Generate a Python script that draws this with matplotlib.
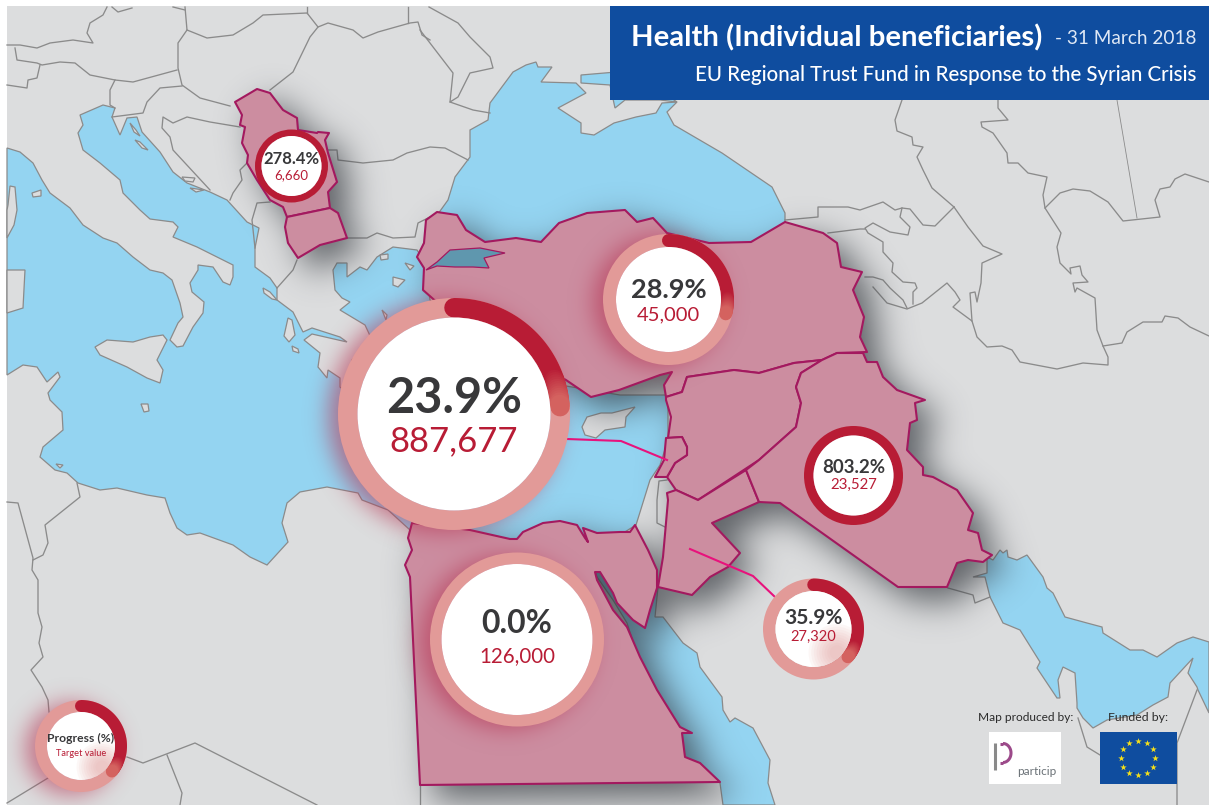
import numpy as np
import matplotlib
matplotlib.use('Agg')
import matplotlib.pyplot as plt
from matplotlib.backends.backend_agg import FigureCanvasAgg
from matplotlib.figure import Figure
from matplotlib.patches import Circle, Polygon, Rectangle, Wedge

plt.rcParams['font.family'] = ['Lato', 'DejaVu Sans']

W, H = 1209, 805

# values shown in the rings
ringPct = [23.9, 28.9, 278.4, 803.2, 35.9, 0.0, 36.0]
ringTarget = ['887,677', '45,000', '6,660', '23,527', '27,320', '126,000', 'Target value']
ringLabel = ['23.9%', '28.9%', '278.4%', '803.2%', '35.9%', '0.0%', 'Progress (%)']

# ring layout
ringX = [454, 668.5, 291.5, 853.5, 813.5, 517, 81]
ringY = [414, 299.5, 166, 475.5, 629, 639.5, 746]
ringOuter = [116, 65.5, 36.5, 49.5, 50.5, 87, 46]
ringInner = [96.5, 52.5, 30, 40, 38, 75.5, 34]
ringGlow = [True, True, False, False, False, True, True]
ringInnerTint = [False, False, False, False, True, False, True]
labelY = [398, 290, 159, 467.5, 618, 623, 738]
targetY = [441, 315, 175, 484.5, 637, 656, 753]
labelSize = [35, 19.5, 12, 13.5, 15, 23, 8.7]
targetSize = [25, 14.5, 9.5, 10.8, 10.5, 14.8, 6.7]

# map shapes, in picture pixels
sea = [(7,148),(20,152),(33,163),(42,180),(50,193),(70,208),(83,225),(103,238),(117,243),(133,257),(150,270),(163,273),
       (172,280),(180,303),(183,317),(178,323),(170,340),(177,347),(183,346),(193,327),(203,313),(204,302),(192,292),(190,283),(198,270),
       (198,265),(213,267),(223,282),(230,285),(233,277),(233,265),(217,257),(197,247),(173,237),(178,227),(173,222),(150,219),(140,210),
       (123,193),(120,180),(100,163),(83,150),(78,133),(83,125),(80,115),(103,105),(115,108),(112,117),(120,135),(127,118),(137,117),
       (142,132),(160,152),(173,172),(187,183),(210,192),(227,200),(247,222),(259,228),(255,248),(255,267),(270,278),(277,288),
       (277,300),(293,312),(303,332),(312,328),(340,337),(347,342),(312,334),(304,340),(320,353),(318,367),(327,378),(328,370),
       (340,378),(340,387),(350,395),(352,360),(372,340),(365,325),(340,310),(350,302),(342,298),(335,290),(333,270),(337,263),
       (347,263),(347,277),(360,267),(367,270),(377,257),(393,247),(417,250),
       (425,262),(430,300),(470,340),(560,385),(620,395),(668,395),(668,440),(660,465),(650,480),(636,525),(620,535),(520,540),
       (410,530),(388,510),(362,500),(358,493),(327,487),(300,492),(287,503),(282,523),(288,542),(267,565),(250,557),(233,545),
       (200,533),(187,535),(177,528),(170,513),(165,498),(147,495),(117,488),(100,490),(78,483),(67,473),(55,470),(40,457),(43,447),
       (63,430),(62,412),(50,400),(48,393),(60,377),(58,372),(47,382),(37,367),(23,365),(7,375)]
blackSea = [(448,200),(455,177),(470,157),(470,130),(488,120),(490,103),(513,72),(526,65),(536,62),(538,67),(552,67),(541,82),
            (576,83),(586,93),(558,108),(581,123),(581,133),(594,135),(614,123),(636,117),(656,113),(662,103),(677,102),(667,112),
            (674,125),(722,153),(772,187),(785,213),(785,224),(770,245),(680,250),(550,250),(470,240),(430,225)]
azov = [(581,83),(610,85),(615,108),(625,100),(660,100),(677,102),(668,96),(662,85),(640,70),(581,75)]
redSea = [(658,587),(655,617),(663,617),(683,643),(697,653),(700,667),(722,697),(723,710),(730,722),(735,718),(753,728),(770,760),
          (768,783),(775,805),(723,805),(720,783),(700,763),(683,757),(682,733),(692,733),(680,730),(657,690),(640,663),(627,623),
          (613,600),(597,577),(595,572),(600,572),(645,628),(655,590)]
gulf = [(987,557),(993,560),(1000,550),(1003,553),(1007,550),(1008,557),(1017,560),(1027,555),(1043,577),(1047,588),(1053,593),
        (1065,617),(1087,623),(1102,627),(1103,633),(1130,650),(1143,650),(1157,657),(1177,643),(1193,637),(1209,642),(1209,713),
        (1198,690),(1197,687),(1188,673),(1193,658),(1170,683),(1168,697),(1153,705),(1137,715),(1107,720),(1093,728),(1083,718),
        (1077,708),(1077,703),(1075,673),(1063,667),(1058,680),(1060,698),(1057,698),(1037,668),(1040,662),(1020,630),(1003,623),
        (990,597),(985,577),(973,577),(987,573)]

islands = [
    [(95,347),(107,340),(133,342),(150,337),(163,335),(167,340),(157,360),(163,370),(160,383),(147,378),(127,367),(100,355)],
    [(582,427),(587,417),(601,413),(612,413),(635,407),(626,417),(625,427),(605,430),(596,438),(585,435)],
    [(141,404),(148,404),(149,411),(144,412)],
    [(32,193),(41,190),(41,196),(33,197)],
    [(56,464),(63,465),(60,468)],
    [(7,238),(14,225),(17,210),(15,187),(10,186),(8,205),(7,210)],
    [(7,313),(23,308),(25,270),(7,270)],
    [(263,288),(270,292),(277,300),(272,299),(264,293)],
    [(288,318),(292,320),(295,335),(289,342),(284,336)],
    [(292,346),(298,349),(299,353),(293,351)],
    [(380,255),(388,254),(388,259),(381,260)],
    [(405,263),(414,266),(410,270)],
    [(393,277),(405,280),(398,287),(393,285)],
    [(382,310),(387,315),(386,320)],
    [(130,123),(136,130),(140,136),(134,132)],
    [(135,140),(140,142),(148,150),(142,148)],
    [(182,177),(195,178),(193,182),(185,181)],
    [(190,188),(204,190),(196,192)],
]

albaniaGreece = [(297,260),(293,270),(277,288)]

serbia = [(235,102),(257,89),(270,93),(283,110),(297,118),(298,130),(317,133),(318,132),(329,133),(325,140),(328,153),(337,182),
          (328,192),(330,208),(287,217),(283,207),(270,200),(257,180),(247,163),(248,155),(242,143),(245,127),(240,125),(242,115)]
fyrom = [(287,217),(330,208),(338,213),(347,238),(320,245),(298,258),(288,243),(285,227)]
turkey = [(426,220),(437,212),(457,215),(466,230),(485,242),(516,238),(541,242),(559,223),(587,213),(625,210),(637,222),(653,218),
          (667,233),(709,243),(751,242),(785,222),(823,233),(837,243),(841,267),(862,272),(853,290),(864,317),(860,337),(867,352),
          (837,353),(822,360),(794,363),(759,373),(734,370),(687,377),(682,392),(666,397),(664,385),(672,372),(660,375),(619,390),
          (591,397),(566,380),(530,360),(470,330),(440,305),(423,290),(424,268),(417,257),(424,243)]
marmara = [(426,270),(437,262),(450,250),(480,248),(505,253),(484,258),(489,268),(473,267),(455,267),(437,266)]
syria = [(666,397),(682,392),(687,377),(734,370),(759,373),(794,363),(822,360),(801,373),(796,387),(801,403),(796,427),(759,460),
         (698,500),(676,490),(667,477),(675,463),(687,455),(687,447),(682,437),(668,438),(671,417),(666,400)]
lebanon = [(666,438),(682,437),(687,447),(687,455),(675,463),(667,477),(655,477),(664,460)]
jordan = [(667,493),(676,490),(698,500),(746,470),(759,502),(712,523),(740,553),(728,567),(710,577),(692,595),(658,587),(663,557),(668,500)]
iraq = [(822,360),(837,353),(863,353),(867,362),(877,362),(883,377),(897,390),(925,400),(915,403),(917,420),(910,423),
        (907,450),(923,467),(923,475),(933,477),(957,490),(973,513),(968,530),(978,533),(982,550),(992,555),(983,562),(968,560),
        (957,563),(947,587),(898,587),(780,503),(759,502),(746,470),(759,460),(796,427),(801,403),(796,387),(801,373)]
egypt = [(412,523),(470,530),(510,539),(517,539),(523,532),(543,523),(560,521),(577,525),(585,538),(588,542),(583,528),(597,533),
         (620,532),(630,532),(635,525),(648,550),(657,570),(657,588),(650,610),(645,628),(633,620),(617,603),(613,593),(600,572),
         (595,572),(597,580),(613,610),(627,627),(640,657),(657,690),(680,727),(692,733),(682,733),(685,757),(700,763),(720,782),
         (420,785),(410,577),(405,565),(412,550),(408,538)]
countries = [serbia, fyrom, turkey, syria, lebanon, jordan, iraq, egypt]

borders = [
    [(107,7),(103,15),(90,23),(87,33),(93,43),(73,40),(50,43),(37,48),(20,45),(7,45)],
    [(185,7),(187,30),(178,43),(178,68),(182,85),(200,98),(230,106)],
    [(187,30),(207,38),(233,35),(253,23),(263,15),(307,13),(318,27),(310,37),(293,72),(270,90)],
    [(15,48),(17,60),(37,63),(42,65),(60,62),(75,63),(90,75),(115,80),(133,82),(177,70)],
    [(7,85),(27,88),(28,80),(37,78),(40,65)],
    [(115,80),(110,90),(110,105),(115,108)],
    [(112,117),(143,113),(147,102),(160,88),(182,86)],
    [(240,127),(210,122),(187,117),(173,123),(163,117),(162,128),(170,137),(173,150),(210,190)],
    [(247,163),(240,170),(242,180),(233,193),(230,200)],
    [(270,202),(257,203),(252,220),(255,248)],
    albaniaGreece,
    [(318,27),(328,23),(353,30),(363,38),(378,32),(410,23),(418,22),(422,35),(430,40)],
    [(408,7),(408,23)],
    [(307,7),(307,13)],
    [(112,7),(118,12),(132,8)],
    [(173,7),(185,10)],
    [(328,150),(337,150),(338,160),(363,163),(393,160),(407,153),(430,147),(445,148),(468,160)],
    [(347,238),(367,238),(377,233),(393,238),(415,237),(418,223),(430,217)],
    [(429,7),(458,23),(470,37),(490,57),(493,68),(470,73),(458,97),(450,102),(473,110),(490,113)],
    [(420,30),(453,73),(450,102)],
    [(785,220),(818,217),(818,207),(848,207),(860,210),(883,202),(895,210),(902,208),(910,209),(923,225),(935,226),(954,207)],
    [(902,100),(895,120),(897,131),(912,137),(913,145),(923,147),(917,157),(923,170),(932,188),(954,207)],
    [(902,208),(900,217),(910,227),(908,235),(890,232),(873,223),(865,228),(868,233),(883,242),(883,252),(893,263),(892,272),(903,282),(915,283),(917,288),(913,292),(913,304)],
    [(828,233),(860,229),(865,229)],
    [(865,277),(873,277),(883,280),(890,288),(903,300),(907,308)],
    [(873,287),(887,303),(907,309),(922,303),(947,283),(955,292),(960,300),(953,307),(972,321),(977,337),(987,347),(1002,346),(1012,350),(1020,362),(1057,369),(1083,363),(1108,365),(1108,357),(1103,346),(1097,330),(1095,298),(1077,288),(1075,292),(1073,283),(1088,282),(1082,275),(1080,266),(1070,268),(1071,274),(1060,263),(1057,247),(1061,233),(1045,208),(1043,195),(1047,177),(1028,173),(1018,163),(1008,163),(1007,153),(993,133),(982,127),(981,122),(1008,120),(998,108),(998,100)],
    [(972,321),(970,293),(975,292),(977,302),(981,283),(982,263),(1002,254),(983,246),(968,227),(954,207)],
    [(1045,208),(1060,193),(1073,189),(1090,191),(1108,202),(1123,221),(1160,217),(1155,200),(1160,189),(1170,187),(1175,179),(1185,174),(1209,182)],
    [(1103,346),(1122,343),(1127,332),(1143,322),(1162,322),(1165,316),(1178,318),(1190,327),(1209,336)],
    [(948,588),(973,595),(975,603),(990,597)],
    [(1197,690),(1177,743),(1177,805)],
    [(1078,718),(1087,747),(1100,755)],
    [(420,785),(420,805)],
    [(7,502),(18,503),(33,558),(32,570),(38,580),(38,613),(42,627),(39,643),(43,657),(31,670),(42,687),(48,700),(49,712)],
    [(77,483),(80,497),(60,513),(45,525),(48,543),(43,555),(33,560)],
    [(127,757),(143,763),(195,743),(317,805)],
    [(167,755),(182,793),(180,805)],
    [(7,803),(48,778)],
    [(667,480),(659,481),(657,500),(657,523),(667,528)],
]
thinBorder = [(1117,100),(1137,218)]

leaderLines = [[(567,439),(621,441),(667,460)], [(690,549),(753,576),(775,597)]]

LAND = '#dcddde'
SEA = '#94d4f1'
COAST = '#8b8b8b'
FILL = '#cc8da0'
EDGE = '#a3195f'
RING = '#e29a98'
ARC = '#b81c35'
ARC_TIP = '#d4625f'
DARK = '#38383a'
BLUE = '#0f4d9f'


def blur(a, sigma, dx=0, dy=0):
    # padded so nothing wraps round the picture edges
    pad = 80
    b = np.pad(a, pad)
    fy = np.fft.fftfreq(b.shape[0])[:, None]
    fx = np.fft.rfftfreq(b.shape[1])[None, :]
    g = np.exp(-2 * (np.pi * sigma) ** 2 * (fx ** 2 + fy ** 2))
    b = np.fft.irfft2(np.fft.rfft2(b) * g, s=b.shape)
    b = np.roll(np.roll(b, dx, axis=1), dy, axis=0)
    return b[pad:-pad, pad:-pad]


def shapeMask(patches):
    f = Figure(figsize=(W / 100, H / 100), dpi=100)
    c = FigureCanvasAgg(f)
    a = f.add_axes([0, 0, 1, 1])
    a.set_xlim(0, W)
    a.set_ylim(H, 0)
    a.axis('off')
    for p in patches:
        a.add_patch(p)
    c.draw()
    return 1 - np.asarray(c.buffer_rgba())[:, :, 0] / 255.0


def softLayer(mask, color, strength, zorder):
    rgba = np.zeros(mask.shape + (4,))
    rgba[:, :, :3] = matplotlib.colors.to_rgb(color)
    rgba[:, :, 3] = np.clip(mask, 0, 1) * strength
    rgba[:6, :, 3] = 0
    rgba[:, :7, 3] = 0
    ax.imshow(rgba, extent=(0, W, H, 0), zorder=zorder, interpolation='bilinear', aspect='auto')


fig = plt.figure(figsize=(W / 100, H / 100), dpi=100, facecolor='white')
ax = fig.add_axes([0, 0, 1, 1])
ax.axis('off')

ax.add_patch(Rectangle((7, 6), W - 7, H - 6, fc=LAND, ec='none', zorder=0))
for shape in [sea, blackSea, azov, redSea, gulf]:
    ax.add_patch(Polygon(shape, closed=True, fc=SEA, ec=COAST, lw=0.9, zorder=1))
for shape in islands:
    ax.add_patch(Polygon(shape, closed=True, fc=LAND, ec=COAST, lw=0.9, zorder=2))
for line in borders:
    ax.plot([p[0] for p in line], [p[1] for p in line], color=COAST, lw=0.95, zorder=2)
ax.plot([p[0] for p in thinBorder], [p[1] for p in thinBorder], color=COAST, lw=0.6, zorder=2)

# drop shadow of the highlighted countries
shadow = shapeMask([Polygon(s, closed=True, fc='black', ec='black', lw=1) for s in countries])
softLayer(blur(shadow, 17, 15, 14), '#2e3238', 0.72, 3)

for shape in countries:
    ax.add_patch(Polygon(shape, closed=True, fc=FILL, ec=EDGE, lw=1.5, joinstyle='round', zorder=4))
ax.add_patch(Polygon(marmara, closed=True, fc='#5f97ae', ec=EDGE, lw=0.9, zorder=5))

for line in leaderLines:
    ax.plot([p[0] for p in line], [p[1] for p in line], color='#e8127c', lw=1.5, zorder=5)

# pink glow behind some rings
glowShapes = [Circle((ringX[i] - 10, ringY[i] + 3), ringOuter[i], fc='black', ec='none')
              for i in range(len(ringX)) if ringGlow[i]]
softLayer(blur(shapeMask(glowShapes), 11), '#b5304f', 0.6, 6)

for i in range(len(ringX)):
    cx, cy, R, r = ringX[i], ringY[i], ringOuter[i], ringInner[i]
    pct = ringPct[i]
    full = pct >= 100
    ax.add_patch(Wedge((cx, cy), R, 0, 360, width=R - r, fc=ARC if full else RING, ec='none', zorder=7))
    white = Circle((cx, cy), r, fc='white', ec='none', zorder=8)
    ax.add_patch(white)
    if ringInnerTint[i]:
        for k in range(9):
            tint = Circle((cx + r * 0.62, cy + r * 0.62), r * (0.75 - k * 0.07), fc=RING, ec='none',
                          alpha=0.08, zorder=8.5)
            ax.add_patch(tint)
            tint.set_clip_path(white)
    if pct > 0 and not full:
        end = pct * 3.6
        mid = (R + r) / 2
        lw = (R - r) * 0.72
        a = np.radians(np.linspace(0, end - 15, 80))
        ax.plot(cx + mid * np.sin(a), cy - mid * np.cos(a), color=ARC, lw=lw,
                solid_capstyle='round', zorder=7.5)
        steps = np.linspace(end - 15, end, 13)
        c0 = np.array(matplotlib.colors.to_rgb(ARC))
        c1 = np.array(matplotlib.colors.to_rgb(ARC_TIP))
        for k in range(12):
            a = np.radians(np.linspace(steps[k], steps[k + 1], 4))
            ax.plot(cx + mid * np.sin(a), cy - mid * np.cos(a), color=c0 + (c1 - c0) * (k + 1) / 12, lw=lw,
                    solid_capstyle='round', zorder=7.5)
    ax.text(cx, labelY[i], ringLabel[i], color=DARK, fontsize=labelSize[i], fontweight='bold',
            ha='center', va='center', zorder=9)
    ax.text(cx, targetY[i], ringTarget[i], color=ARC, fontsize=targetSize[i],
            ha='center', va='center', zorder=9)

# banner
ax.add_patch(Rectangle((610, 6), W - 610, 94, fc=BLUE, ec='none', zorder=10))
ax.text(631, 38, 'Health (Individual beneficiaries)', color='white', fontsize=21.2, fontweight='bold',
        ha='left', va='center', zorder=11)
ax.text(1196, 39, '- 31 March 2018', color='#dfe8f5', fontsize=13.7, ha='right', va='center', zorder=11)
ax.text(1196, 75, 'EU Regional Trust Fund in Response to the Syrian Crisis', color='white', fontsize=14.8,
        fontweight='medium', ha='right', va='center', zorder=11)

# credits
ax.text(1026, 717, 'Map produced by:', color='#2b2b2b', fontsize=8.6, ha='center', va='center', zorder=11)
ax.text(1138, 717, 'Funded by:', color='#2b2b2b', fontsize=8.8, ha='center', va='center', zorder=11)

ax.add_patch(Rectangle((989, 732), 72, 52, fc='white', ec='none', zorder=10))
ax.plot([994.5, 994.5], [743, 770], color='#8a8a8a', lw=2.2, solid_capstyle='butt', zorder=11)
t = np.radians(np.linspace(-90, 90, 40))
ax.plot(1003 + 8 * np.cos(t), 753 + 9.5 * np.sin(t), color='#9c4a8a', lw=2.2, solid_capstyle='butt', zorder=11)
ax.plot([1000, 1003], [743.5, 743.5], color='#9c4a8a', lw=2.2, solid_capstyle='butt', zorder=11)
ax.plot([1000, 1003], [762.5, 762.5], color='#9c4a8a', lw=2.2, solid_capstyle='butt', zorder=11)
ax.text(1037, 771, 'particip', color='#6a7176', fontsize=8.5, ha='center', va='center', zorder=11)

ax.add_patch(Rectangle((1100, 732), 77, 52, fc=BLUE, ec='none', zorder=10))
t = np.radians(np.arange(0, 360, 30))
ax.scatter(1138 + 17.2 * np.cos(t), 758 + 17.2 * np.sin(t), marker='*', s=24, color='#f7e11a', linewidths=0, zorder=11)

ax.set_xlim(0, W)
ax.set_ylim(H, 0)
fig.savefig('out.png', dpi=100, facecolor='white')
